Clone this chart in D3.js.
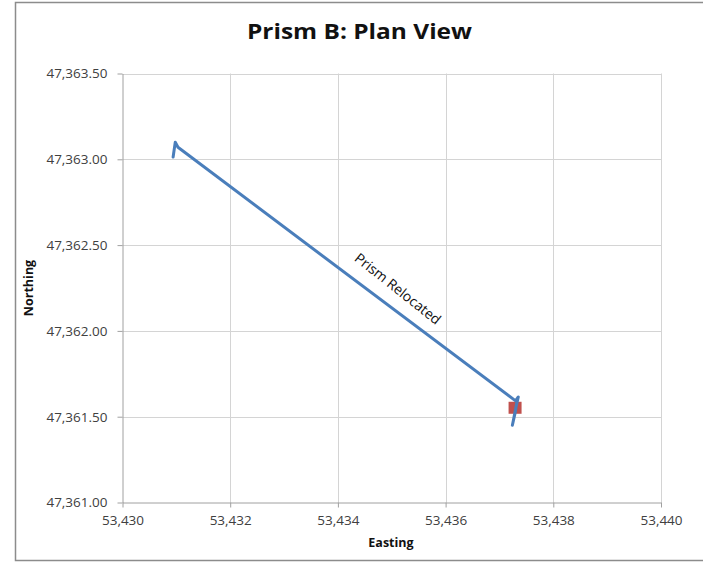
<!DOCTYPE html>
<html>
<head>
<meta charset="utf-8">
<script src="https://cdn.jsdelivr.net/npm/d3@7"></script>
<style>
  html, body { margin: 0; padding: 0; background: #fff; }
  svg { display: block; }
  text { font-family: "Open Sans", Lato, "Liberation Sans", sans-serif; }
</style>
</head>
<body>
<svg id="chart" width="703" height="564"></svg>
<script>
// Prism B track: easting / northing readings
const trackEasting  = [53430.94, 53430.98, 53431.03, 53437.30, 53437.35, 53437.31, 53437.26, 53437.24, 53437.29, 53437.33];
const trackNorthing = [47363.013, 47363.10, 47363.07, 47361.592, 47361.615, 47361.56, 47361.48, 47361.45, 47361.52, 47361.60];

// Current prism position
const currentEasting  = [53437.29];
const currentNorthing = [47361.552];

// Axis ticks
const xTicks = [53430, 53432, 53434, 53436, 53438, 53440];
const yTicks = [47361.0, 47361.5, 47362.0, 47362.5, 47363.0, 47363.5];

// Annotation
const noteText = ["Prism Relocated"];
const noteEasting = [53435.10];
const noteNorthing = [47362.24];

const titleText = "Prism B: Plan View";
const xTitle = "Easting";
const yTitle = "Northing";

const svg = d3.select("#chart");
const W = 703, H = 564;
const plot = { left: 122.5, right: 661, top: 73.5, bottom: 502.5 };

const x = d3.scaleLinear().domain([53430, 53440]).range([plot.left, plot.right]);
const y = d3.scaleLinear().domain([47361, 47363.5]).range([plot.bottom, plot.top]);

// chart frame
svg.append("rect")
  .attr("x", 15.5).attr("y", 2.5)
  .attr("width", W + 10).attr("height", 558)
  .attr("fill", "#fff").attr("stroke", "#8c8c8c").attr("stroke-width", 1.5);

// title
svg.append("text")
  .attr("x", 359.5).attr("y", 39)
  .attr("text-anchor", "middle")
  .attr("font-size", 20.5).attr("font-weight", "bold").attr("fill", "#111")
  .attr("textLength", 225).attr("lengthAdjust", "spacingAndGlyphs")
  .text(titleText);

// gridlines
const grid = svg.append("g").attr("stroke", "#d4d4d4").attr("stroke-width", 1);
grid.selectAll("line.v").data(xTicks.slice(1)).join("line")
  .attr("x1", d => Math.round(x(d)) + 0.5).attr("x2", d => Math.round(x(d)) + 0.5)
  .attr("y1", plot.top).attr("y2", plot.bottom);
grid.selectAll("line.h").data(yTicks.slice(1)).join("line")
  .attr("x1", plot.left).attr("x2", plot.right)
  .attr("y1", d => Math.round(y(d)) + 0.5).attr("y2", d => Math.round(y(d)) + 0.5);

// axes
const fmtX = d3.format(",.0f");
const fmtY = d3.format(",.2f");

const xAxis = svg.append("g")
  .attr("transform", `translate(0,${plot.bottom})`)
  .call(d3.axisBottom(x).tickValues(xTicks).tickFormat(fmtX).tickSizeInner(5).tickSizeOuter(0).tickPadding(8));
const yAxis = svg.append("g")
  .attr("transform", `translate(${plot.left},0)`)
  .call(d3.axisLeft(y).tickValues(yTicks).tickFormat(fmtY).tickSizeInner(5).tickSizeOuter(0).tickPadding(10));

[xAxis, yAxis].forEach(a => {
  a.select(".domain").attr("stroke", "#a0a0a0");
  a.selectAll(".tick line").attr("stroke", "#a0a0a0");
  a.selectAll(".tick text")
    .attr("font-family", "'Open Sans', Lato, sans-serif")
    .attr("font-size", 13.5).attr("fill", "#404040");
});

// axis titles
svg.append("text")
  .attr("x", 391).attr("y", 547)
  .attr("text-anchor", "middle")
  .attr("font-size", 12.5).attr("font-weight", "bold").attr("fill", "#111")
  .text(xTitle);
svg.append("text")
  .attr("transform", "translate(33,288) rotate(-90)")
  .attr("text-anchor", "middle")
  .attr("font-size", 12.5).attr("font-weight", "bold").attr("fill", "#111")
  .text(yTitle);

// current position marker
svg.append("g").selectAll("rect").data(currentEasting).join("rect")
  .attr("x", (d, i) => x(d) - 6.5)
  .attr("y", (d, i) => y(currentNorthing[i]) - 6)
  .attr("width", 13).attr("height", 12)
  .attr("fill", "#c0504d");

// track line
const pts = trackEasting.map((e, i) => [e, trackNorthing[i]]);
svg.append("path")
  .datum(pts)
  .attr("fill", "none")
  .attr("stroke", "#4a7ebb")
  .attr("stroke-width", 3)
  .attr("stroke-linejoin", "round")
  .attr("stroke-linecap", "round")
  .attr("d", d3.line().x(d => x(d[0])).y(d => y(d[1])));

// annotation rotated along the track
const a0 = [x(trackEasting[2]), y(trackNorthing[2])];
const a1 = [x(trackEasting[3]), y(trackNorthing[3])];
const angle = Math.atan2(a1[1] - a0[1], a1[0] - a0[0]) * 180 / Math.PI + 1.5;
svg.selectAll("text.note").data(noteText).join("text")
  .attr("class", "note")
  .attr("transform", (d, i) => `translate(${x(noteEasting[i])},${y(noteNorthing[i])}) rotate(${angle})`)
  .attr("text-anchor", "middle")
  .attr("dominant-baseline", "middle")
  .attr("font-size", 14).attr("fill", "#111")
  .text(d => d);
</script>
</body>
</html>
